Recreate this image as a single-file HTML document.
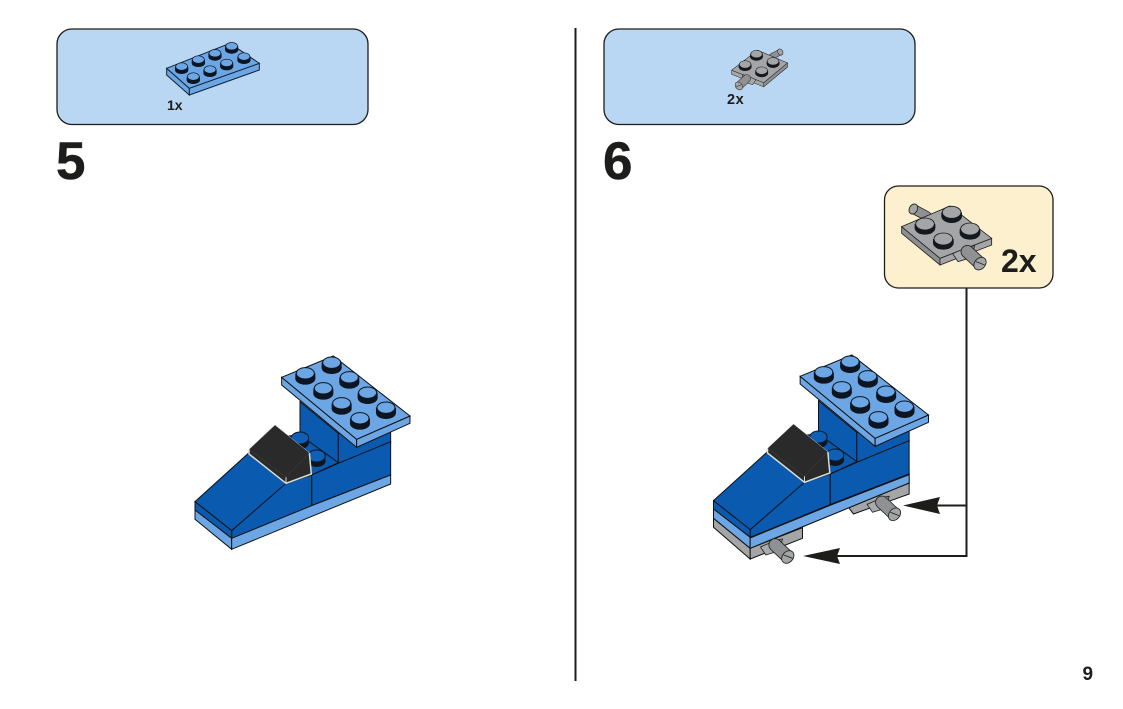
<!DOCTYPE html>
<html><head><meta charset="utf-8"><style>
html,body{margin:0;padding:0;background:#fff;width:1123px;height:709px;overflow:hidden}
svg{display:block}
text{font-family:"Liberation Sans",sans-serif;font-weight:bold;fill:#1d1d1b}
</style></head><body>
<svg width="1123" height="709" viewBox="0 0 1123 709" xmlns="http://www.w3.org/2000/svg">
<defs>
<g id="bs"><ellipse cx="0" cy="11" rx="30" ry="18" fill="#0c1520"/><rect x="-30" y="-5" width="60" height="16" fill="#0c1520"/><ellipse cx="0" cy="-5" rx="27" ry="17" fill="#6ca6e4" stroke="#0c1520" stroke-width="3"/></g>
<g id="model">
<polygon points="360,185 475,280 475,370 360,290" fill="#0a5ab0" stroke="#111" stroke-width="3"/>
<polygon points="475,280 632,270 632,310 475,370" fill="#0a5ab0" stroke="#111" stroke-width="3"/>
<polygon points="300,290 360,285 475,368 395,405 330,380" fill="#0a5ab0" stroke="#111" stroke-width="3"/>
<g transform="translate(360,298)"><ellipse cx="0" cy="10" rx="27" ry="19" fill="#0c1520"/><ellipse cx="0" cy="-4" rx="26" ry="18" fill="#0f5fb5" stroke="#0c1520" stroke-width="3"/></g>
<g transform="translate(410,350)"><ellipse cx="0" cy="12" rx="27" ry="19" fill="#0c1520"/><ellipse cx="0" cy="-2" rx="26" ry="18" fill="#0f5fb5" stroke="#0c1520" stroke-width="3"/></g>
<polygon points="395,405 475,370 632,305 632,405 395,497" fill="#0a5ab0" stroke="#111" stroke-width="3"/>
<polygon points="155,572 315,430 395,405 395,497 155,597" fill="#0a5ab0" stroke="#111" stroke-width="3"/>
<polygon points="45,485 205,340 318,430 155,572" fill="#0a5ab0" stroke="#111" stroke-width="3"/>
<polygon points="45,485 155,572 155,595 45,510" fill="#0a5ab0" stroke="#111" stroke-width="3"/>
<polygon points="45,510 155,595 155,628 45,538" fill="#6ca6e4" stroke="#111" stroke-width="3"/>
<polygon points="155,595 395,497 632,405 632,432 155,628" fill="#6ca6e4" stroke="#111" stroke-width="3"/>
<polygon points="207,328 285,255 388,338 394,400 318,430 207,342" fill="#2a2a2a"/>
<polyline points="207,328 285,255 388,338" fill="none" stroke="#c8c8c2" stroke-width="1.500"/>
<polyline points="207,328 207,342 318,430 394,402 388,338" fill="none" stroke="#dcdcd4" stroke-width="4.500" stroke-linejoin="round"/>
<polyline points="212,332 318,412 388,338" fill="none" stroke="#444" stroke-width="1.500"/>
<line x1="318" y1="412" x2="318" y2="430" stroke="#dcdcd4" stroke-width="3"/>
<polygon points="305,112 530,298 530,322 305,135" fill="#6ca6e4" stroke="#111" stroke-width="3"/>
<polygon points="530,298 690,228 690,250 530,322" fill="#6ca6e4" stroke="#111" stroke-width="3"/>
<polygon points="305,112 460,48 690,228 530,298" fill="#6ca6e4" stroke="#111" stroke-width="3"/>
<use href="#bs" x="376" y="105"/><use href="#bs" x="455" y="73"/>
<use href="#bs" x="430" y="150"/><use href="#bs" x="508" y="117"/>
<use href="#bs" x="485" y="195"/><use href="#bs" x="563" y="163"/>
<use href="#bs" x="540" y="240"/><use href="#bs" x="618" y="208"/>
</g>
<g id="gs"><ellipse cx="0" cy="9" rx="31" ry="20" fill="#15181c"/><rect x="-31" y="-3" width="62" height="12" fill="#15181c"/><ellipse cx="0" cy="-3" rx="28" ry="18" fill="#a3a5a7" stroke="#15181c" stroke-width="2.500"/></g>
<g id="axle">
<polygon points="-44,6 -12,-8 4,20 -28,30" fill="#a9abad" stroke="#222" stroke-width="2.500"/>
<polygon points="-14,-12 22,-18 16,6 -8,14" fill="#8f9193" stroke="#222" stroke-width="2.500"/>
<line x1="0" y1="0" x2="32" y2="30" stroke="#222" stroke-width="40" stroke-linecap="round"/>
<line x1="0" y1="0" x2="32" y2="30" stroke="#8f9193" stroke-width="35" stroke-linecap="round"/>
<ellipse cx="38" cy="36" rx="16" ry="21" transform="rotate(42 38 36)" fill="#a3a5a7" stroke="#222" stroke-width="2.500"/>
<line x1="26" y1="30" x2="52" y2="40" stroke="#222" stroke-width="2.500"/>
</g>
<g id="gp">
<line x1="102" y1="88" x2="140" y2="108" stroke="#222" stroke-width="30" stroke-linecap="round"/>
<line x1="102" y1="88" x2="140" y2="108" stroke="#8f9193" stroke-width="25" stroke-linecap="round"/>
<ellipse cx="100" cy="87" rx="12" ry="16" transform="rotate(30 100 87)" fill="#a3a5a7" stroke="#222" stroke-width="2.500"/>
<polygon points="65,140 180,235 180,255 65,160" fill="#8c8e90" stroke="#222" stroke-width="2.500"/>
<polygon points="180,235 335,175 335,195 180,255" fill="#a3a5a7" stroke="#222" stroke-width="2.500"/>
<polygon points="65,140 210,78 335,175 180,235" fill="#a3a5a7" stroke="#222" stroke-width="2.500"/>
<use href="#gs" x="135" y="135"/><use href="#gs" x="215" y="100"/>
<use href="#gs" x="270" y="150"/><use href="#gs" x="190" y="180"/>
<use href="#axle" x="262" y="215"/>
</g>
</defs>
<rect width="1123" height="709" fill="#fff"/>

<rect x="57" y="29" width="311" height="95.500" rx="15" fill="#b9d7f2" stroke="#1d1d1b" stroke-width="1.300"/>
<rect x="604" y="29" width="311" height="95.500" rx="15" fill="#b9d7f2" stroke="#1d1d1b" stroke-width="1.300"/>
<rect x="884.500" y="186" width="168.500" height="102" rx="14" fill="#fdf0cf" stroke="#1d1d1b" stroke-width="1.300"/>
<line x1="575.500" y1="28" x2="575.500" y2="681" stroke="#1d1d1b" stroke-width="2"/>

<g transform="translate(150,30) scale(.3333)">
<polygon points="50,115 118,175 118,195 50,135" fill="#6ca6e4" stroke="#123" stroke-width="3"/>
<polygon points="118,175 328,100 328,120 118,195" fill="#6ca6e4" stroke="#123" stroke-width="3"/>
<polygon points="50,115 240,40 328,100 118,175" fill="#6ca6e4" stroke="#123" stroke-width="3"/>
<g transform="translate(95,113) scale(.66)"><use href="#bs"/></g><g transform="translate(145,92) scale(.66)"><use href="#bs"/></g>
<g transform="translate(195,73) scale(.66)"><use href="#bs"/></g><g transform="translate(245,52) scale(.66)"><use href="#bs"/></g>
<g transform="translate(130,143) scale(.66)"><use href="#bs"/></g><g transform="translate(180,122) scale(.66)"><use href="#bs"/></g>
<g transform="translate(230,102) scale(.66)"><use href="#bs"/></g><g transform="translate(282,83) scale(.66)"><use href="#bs"/></g>
</g>
<text x="167" y="110" font-size="14">1x</text>

<g transform="translate(801,34) scale(-.207,.207)"><use href="#gp"/></g>
<text x="727" y="104" font-size="14.500" letter-spacing=".6">2x</text>

<text x="56" y="179" font-size="53" stroke="#1d1d1b" stroke-width=".5">5</text>
<text x="603" y="179" font-size="53" stroke="#1d1d1b" stroke-width=".5">6</text>
<text x="1082.500" y="680" font-size="19">9</text>

<g transform="translate(880,180) scale(.3333)"><use href="#gp"/></g>
<text x="1001" y="272" font-size="32">2x</text>

<g transform="translate(180,340) scale(.3333)"><use href="#model"/></g>

<g transform="translate(698.500,339) scale(.3333)">
<polygon points="45,538 155,628 155,660 45,565" fill="#a3a5a7" stroke="#111" stroke-width="3"/>
<polygon points="450,505 632,432 632,465 465,525" fill="#a3a5a7" stroke="#111" stroke-width="3"/>
<use href="#model"/>
<polygon points="155,628 312,566 312,598 155,660" fill="#a3a5a7" stroke="#111" stroke-width="3"/>
<polygon points="155,597 395,499 632,407 632,432 155,628" fill="#6ca6e4" stroke="#111" stroke-width="3"/>
<use href="#axle" x="230" y="618"/>
<use href="#axle" x="550" y="490"/>
</g>

<polyline points="966.500,288 966.500,556 836,556" fill="none" stroke="#1d1d1b" stroke-width="2"/>
<line x1="966.500" y1="505.500" x2="936" y2="505.500" stroke="#1d1d1b" stroke-width="2"/>
<polygon points="903,505.500 940,497 937,505.500 940,514" fill="#1d1d1b"/>
<polygon points="803,556 840,548 837,556 840,564" fill="#1d1d1b"/>
</svg>
</body></html>
